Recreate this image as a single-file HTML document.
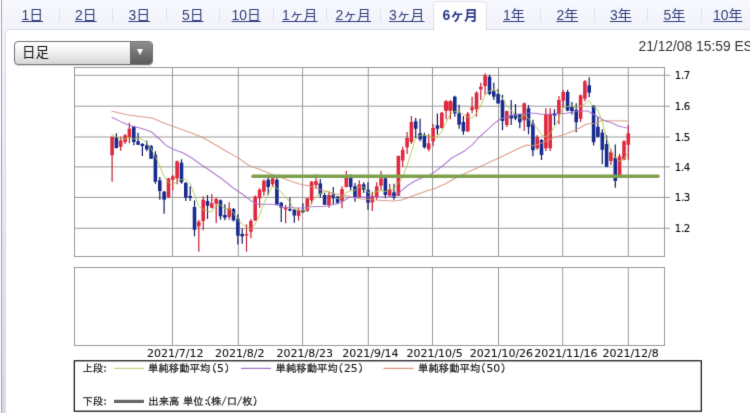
<!DOCTYPE html>
<html lang="ja"><head><meta charset="utf-8"><title>チャート</title>
<style>
html,body{margin:0;padding:0}
body{width:750px;height:413px;overflow:hidden;position:relative;background:#f4f5fc;font-family:"Liberation Sans","Noto Sans CJK JP",sans-serif;}
.edge{position:absolute;left:0.8px;top:0;width:1.6px;height:413px;background:#a4a4a4}
.band{position:absolute;left:2.4px;top:29px;width:4px;height:384px;background:linear-gradient(#f1f2fa,#e6e8f1 45%,#d6dae6)}
.edge0{position:absolute;left:0;top:0;width:1px;height:413px;background:#fff}
.panel{position:absolute;left:5px;top:29px;width:760px;height:400px;background:#fff;border:1px solid #d9dce6;border-radius:4px 0 0 0}
ul.tabs{position:absolute;left:2.4px;top:0;margin:0;padding:0;list-style:none;width:760px;height:29px;background:linear-gradient(#f8f9fe,#f1f2fa)}
ul.tabs li{position:absolute;top:1px;height:28px;line-height:28.8px;font-size:13.9px;color:#2c3b8c;text-align:center;white-space:nowrap}
ul.tabs li a{text-decoration:underline;color:#323e7a}
ul.tabs li.on{background:#fff;border:1px solid #dfe1ea;border-bottom:none;border-radius:5px 5px 0 0;height:29px;line-height:26.4px;font-weight:bold}
ul.tabs li.on a{text-decoration:none;color:#2b3b8a}
.sep{position:absolute;top:8px;width:1px;height:14px;background:#e0e2ea}
.sel{position:absolute;left:14px;top:41px;width:136.5px;height:22px;border:1px solid #757575;border-radius:4px;background:linear-gradient(#ffffff,#f4f4f4 40%,#d6d6d6);overflow:hidden;box-shadow:0 1px 1px rgba(0,0,0,.15)}
.sel span{position:absolute;left:7px;top:0;line-height:22px;font-size:13.5px;color:#111}
.sel i{position:absolute;right:0;top:0;width:20.5px;height:22px;background:linear-gradient(#8e8e8e,#5a5a5a);border-left:1px solid #6a6a6a}
.sel i:after{content:"";position:absolute;left:5.8px;top:7.4px;border-left:3.7px solid transparent;border-right:3.7px solid transparent;border-top:6px solid #fff}
.ts{position:absolute;left:638.5px;top:39px;font-size:13.8px;color:#333;white-space:nowrap;line-height:16px}
svg.chart{position:absolute;left:0;top:0}

.wrap{position:absolute;left:0;top:0;width:750px;height:413px;overflow:hidden;filter:url(#soft)}
</style></head><body>
<svg width="0" height="0" style="position:absolute"><defs><filter id="soft" x="0" y="0" width="750" height="413" filterUnits="userSpaceOnUse" color-interpolation-filters="sRGB"><feConvolveMatrix order="3" kernelMatrix="0.0100 0.0800 0.0100 0.0800 0.6400 0.0800 0.0100 0.0800 0.0100" divisor="1" preserveAlpha="false" edgeMode="duplicate"/></filter></defs></svg>
<div class="wrap">
<div class="edge0"></div><div class="band"></div><div class="edge"></div>
<div class="panel"></div>
<ul class="tabs"><li class="tab" style="left:3.1px;width:53.5px"><a>1日</a></li><li class="tab" style="left:56.6px;width:53.5px"><a>2日</a></li><li class="tab" style="left:110.1px;width:53.5px"><a>3日</a></li><li class="tab" style="left:163.6px;width:53.5px"><a>5日</a></li><li class="tab" style="left:217.1px;width:53.5px"><a>10日</a></li><li class="tab" style="left:270.6px;width:53.5px"><a>1ヶ月</a></li><li class="tab" style="left:324.1px;width:53.5px"><a>2ヶ月</a></li><li class="tab" style="left:377.6px;width:53.5px"><a>3ヶ月</a></li><li class="tab on" style="left:430.6px;width:52.5px"><a>6ヶ月</a></li><li class="tab" style="left:484.6px;width:53.5px"><a>1年</a></li><li class="tab" style="left:538.1px;width:53.5px"><a>2年</a></li><li class="tab" style="left:591.6px;width:53.5px"><a>3年</a></li><li class="tab" style="left:645.1px;width:53.5px"><a>5年</a></li><li class="tab" style="left:698.6px;width:53.5px"><a>10年</a></li></ul>
<div class="sep" style="left:58.5px"></div><div class="sep" style="left:112.0px"></div><div class="sep" style="left:165.5px"></div><div class="sep" style="left:219.0px"></div><div class="sep" style="left:272.5px"></div><div class="sep" style="left:326.0px"></div><div class="sep" style="left:379.5px"></div><div class="sep" style="left:540.0px"></div><div class="sep" style="left:593.5px"></div><div class="sep" style="left:647.0px"></div><div class="sep" style="left:700.5px"></div>
<div class="sel"><span>日足</span><i></i></div>
<div class="ts">21/12/08 15:59 EST</div>
<svg class="chart" width="750" height="413" viewBox="0 0 750 413">
<g class="gfx">
<g class="grid" fill="none" stroke="#9a9a9a" stroke-width="1">
<rect x="74.5" y="67.5" width="590.0" height="189.0" fill="#fff"/>
<rect x="74.5" y="267.5" width="590.0" height="78.0" fill="#fff"/>
<line x1="172.5" y1="67.5" x2="172.5" y2="256.5"/>
<line x1="172.5" y1="267.5" x2="172.5" y2="345.5"/>
<line x1="238.3" y1="67.5" x2="238.3" y2="256.5"/>
<line x1="238.3" y1="267.5" x2="238.3" y2="345.5"/>
<line x1="302.6" y1="67.5" x2="302.6" y2="256.5"/>
<line x1="302.6" y1="267.5" x2="302.6" y2="345.5"/>
<line x1="368.3" y1="67.5" x2="368.3" y2="256.5"/>
<line x1="368.3" y1="267.5" x2="368.3" y2="345.5"/>
<line x1="432.5" y1="67.5" x2="432.5" y2="256.5"/>
<line x1="432.5" y1="267.5" x2="432.5" y2="345.5"/>
<line x1="498.5" y1="67.5" x2="498.5" y2="256.5"/>
<line x1="498.5" y1="267.5" x2="498.5" y2="345.5"/>
<line x1="562.7" y1="67.5" x2="562.7" y2="256.5"/>
<line x1="562.7" y1="267.5" x2="562.7" y2="345.5"/>
<line x1="628.3" y1="67.5" x2="628.3" y2="256.5"/>
<line x1="628.3" y1="267.5" x2="628.3" y2="345.5"/>
<line x1="74.5" y1="75.3" x2="670.0" y2="75.3"/>
<line x1="74.5" y1="106.2" x2="670.0" y2="106.2"/>
<line x1="74.5" y1="137.0" x2="670.0" y2="137.0"/>
<line x1="74.5" y1="166.9" x2="670.0" y2="166.9"/>
<line x1="74.5" y1="197.4" x2="670.0" y2="197.4"/>
<line x1="74.5" y1="228.3" x2="670.0" y2="228.3"/>
</g>
<g class="candles">
<line x1="112.1" y1="136.7" x2="112.1" y2="181.7" stroke="#bf2036" stroke-width="1.2"/>
<rect x="110.3" y="136.7" width="3.6" height="18.6" fill="#e0283e"/>
<line x1="116.4" y1="133.3" x2="116.4" y2="148.5" stroke="#121d62" stroke-width="1.2"/>
<rect x="114.6" y="137.3" width="3.6" height="10.7" fill="#182c90"/>
<line x1="120.7" y1="136.7" x2="120.7" y2="150.7" stroke="#bf2036" stroke-width="1.2"/>
<rect x="118.9" y="140.7" width="3.6" height="6.0" fill="#e0283e"/>
<line x1="125.1" y1="134.0" x2="125.1" y2="144.0" stroke="#bf2036" stroke-width="1.2"/>
<rect x="123.3" y="135.3" width="3.6" height="6.7" fill="#e0283e"/>
<line x1="129.4" y1="122.7" x2="129.4" y2="143.3" stroke="#bf2036" stroke-width="1.2"/>
<rect x="127.6" y="128.7" width="3.6" height="8.6" fill="#e0283e"/>
<line x1="133.8" y1="126.0" x2="133.8" y2="145.3" stroke="#121d62" stroke-width="1.2"/>
<rect x="132.0" y="126.7" width="3.6" height="15.3" fill="#182c90"/>
<line x1="138.1" y1="132.7" x2="138.1" y2="145.0" stroke="#121d62" stroke-width="1.2"/>
<rect x="136.3" y="141.3" width="3.6" height="3.4" fill="#182c90"/>
<line x1="142.4" y1="143.0" x2="142.4" y2="156.0" stroke="#121d62" stroke-width="1.2"/>
<rect x="140.6" y="144.0" width="3.6" height="2.0" fill="#182c90"/>
<line x1="146.8" y1="140.7" x2="146.8" y2="151.3" stroke="#121d62" stroke-width="1.2"/>
<rect x="145.0" y="145.3" width="3.6" height="4.0" fill="#182c90"/>
<line x1="151.1" y1="145.0" x2="151.1" y2="159.0" stroke="#121d62" stroke-width="1.2"/>
<rect x="149.3" y="146.0" width="3.6" height="12.7" fill="#182c90"/>
<line x1="155.4" y1="151.3" x2="155.4" y2="183.7" stroke="#121d62" stroke-width="1.2"/>
<rect x="153.6" y="154.7" width="3.6" height="27.0" fill="#182c90"/>
<line x1="159.8" y1="177.0" x2="159.8" y2="199.7" stroke="#121d62" stroke-width="1.2"/>
<rect x="158.0" y="180.3" width="3.6" height="10.7" fill="#182c90"/>
<line x1="164.1" y1="191.0" x2="164.1" y2="213.7" stroke="#121d62" stroke-width="1.2"/>
<rect x="162.3" y="191.7" width="3.6" height="8.0" fill="#182c90"/>
<line x1="168.5" y1="178.0" x2="168.5" y2="198.0" stroke="#bf2036" stroke-width="1.2"/>
<rect x="166.7" y="178.3" width="3.6" height="19.1" fill="#e0283e"/>
<line x1="172.8" y1="175.0" x2="172.8" y2="190.3" stroke="#bf2036" stroke-width="1.2"/>
<rect x="171.0" y="176.3" width="3.6" height="3.4" fill="#e0283e"/>
<line x1="177.1" y1="160.5" x2="177.1" y2="184.3" stroke="#bf2036" stroke-width="1.2"/>
<rect x="175.3" y="161.3" width="3.6" height="17.0" fill="#e0283e"/>
<line x1="181.5" y1="159.3" x2="181.5" y2="183.7" stroke="#121d62" stroke-width="1.2"/>
<rect x="179.7" y="162.7" width="3.6" height="19.6" fill="#182c90"/>
<line x1="185.8" y1="182.0" x2="185.8" y2="201.0" stroke="#121d62" stroke-width="1.2"/>
<rect x="184.0" y="183.0" width="3.6" height="14.7" fill="#182c90"/>
<line x1="190.2" y1="186.3" x2="190.2" y2="201.0" stroke="#121d62" stroke-width="1.2"/>
<rect x="188.4" y="196.0" width="3.6" height="2.0" fill="#182c90"/>
<line x1="194.5" y1="200.3" x2="194.5" y2="236.3" stroke="#121d62" stroke-width="1.2"/>
<rect x="192.7" y="207.0" width="3.6" height="22.7" fill="#182c90"/>
<line x1="198.8" y1="220.0" x2="198.8" y2="251.7" stroke="#bf2036" stroke-width="1.2"/>
<rect x="197.0" y="221.7" width="3.6" height="4.6" fill="#e0283e"/>
<line x1="203.2" y1="196.3" x2="203.2" y2="230.3" stroke="#bf2036" stroke-width="1.2"/>
<rect x="201.4" y="199.7" width="3.6" height="21.3" fill="#e0283e"/>
<line x1="207.5" y1="195.0" x2="207.5" y2="219.0" stroke="#121d62" stroke-width="1.2"/>
<rect x="205.7" y="201.0" width="3.6" height="4.7" fill="#182c90"/>
<line x1="211.8" y1="194.0" x2="211.8" y2="208.5" stroke="#bf2036" stroke-width="1.2"/>
<rect x="210.0" y="203.3" width="3.6" height="4.4" fill="#e0283e"/>
<line x1="216.2" y1="198.0" x2="216.2" y2="223.0" stroke="#bf2036" stroke-width="1.2"/>
<rect x="214.4" y="199.0" width="3.6" height="4.7" fill="#e0283e"/>
<line x1="220.5" y1="199.5" x2="220.5" y2="219.7" stroke="#121d62" stroke-width="1.2"/>
<rect x="218.7" y="200.3" width="3.6" height="16.0" fill="#182c90"/>
<line x1="224.9" y1="204.3" x2="224.9" y2="220.3" stroke="#121d62" stroke-width="1.2"/>
<rect x="223.1" y="215.0" width="3.6" height="2.7" fill="#182c90"/>
<line x1="229.2" y1="202.3" x2="229.2" y2="219.7" stroke="#bf2036" stroke-width="1.2"/>
<rect x="227.4" y="208.3" width="3.6" height="8.7" fill="#e0283e"/>
<line x1="233.5" y1="208.0" x2="233.5" y2="221.5" stroke="#121d62" stroke-width="1.2"/>
<rect x="231.7" y="209.0" width="3.6" height="11.3" fill="#182c90"/>
<line x1="237.9" y1="214.3" x2="237.9" y2="244.5" stroke="#121d62" stroke-width="1.2"/>
<rect x="236.1" y="219.0" width="3.6" height="16.7" fill="#182c90"/>
<line x1="242.2" y1="228.3" x2="242.2" y2="243.7" stroke="#121d62" stroke-width="1.2"/>
<rect x="240.4" y="234.0" width="3.6" height="2.3" fill="#182c90"/>
<line x1="246.5" y1="224.3" x2="246.5" y2="251.7" stroke="#bf2036" stroke-width="1.2"/>
<rect x="244.7" y="234.0" width="3.6" height="1.4" fill="#e0283e"/>
<line x1="250.9" y1="219.0" x2="250.9" y2="238.3" stroke="#bf2036" stroke-width="1.2"/>
<rect x="249.1" y="221.0" width="3.6" height="10.7" fill="#e0283e"/>
<line x1="255.2" y1="195.5" x2="255.2" y2="221.0" stroke="#bf2036" stroke-width="1.2"/>
<rect x="253.4" y="196.5" width="3.6" height="24.0" fill="#e0283e"/>
<line x1="259.6" y1="188.3" x2="259.6" y2="207.7" stroke="#bf2036" stroke-width="1.2"/>
<rect x="257.8" y="189.7" width="3.6" height="8.6" fill="#e0283e"/>
<line x1="263.9" y1="179.5" x2="263.9" y2="195.7" stroke="#bf2036" stroke-width="1.2"/>
<rect x="262.1" y="180.7" width="3.6" height="11.0" fill="#e0283e"/>
<line x1="268.2" y1="175.0" x2="268.2" y2="195.0" stroke="#121d62" stroke-width="1.2"/>
<rect x="266.4" y="179.7" width="3.6" height="7.3" fill="#182c90"/>
<line x1="272.6" y1="177.0" x2="272.6" y2="187.0" stroke="#bf2036" stroke-width="1.2"/>
<rect x="270.8" y="178.3" width="3.6" height="6.0" fill="#e0283e"/>
<line x1="276.9" y1="178.3" x2="276.9" y2="205.0" stroke="#121d62" stroke-width="1.2"/>
<rect x="275.1" y="179.7" width="3.6" height="24.6" fill="#182c90"/>
<line x1="281.2" y1="202.0" x2="281.2" y2="222.0" stroke="#121d62" stroke-width="1.2"/>
<rect x="279.4" y="202.7" width="3.6" height="4.8" fill="#182c90"/>
<line x1="285.6" y1="205.0" x2="285.6" y2="223.3" stroke="#bf2036" stroke-width="1.2"/>
<rect x="283.8" y="207.0" width="3.6" height="2.5" fill="#e0283e"/>
<line x1="289.9" y1="197.5" x2="289.9" y2="211.5" stroke="#121d62" stroke-width="1.2"/>
<rect x="288.1" y="209.0" width="3.6" height="1.5" fill="#182c90"/>
<line x1="294.3" y1="209.0" x2="294.3" y2="222.7" stroke="#121d62" stroke-width="1.2"/>
<rect x="292.5" y="209.7" width="3.6" height="5.8" fill="#182c90"/>
<line x1="298.6" y1="208.3" x2="298.6" y2="220.7" stroke="#bf2036" stroke-width="1.2"/>
<rect x="296.8" y="210.2" width="3.6" height="5.6" fill="#e0283e"/>
<line x1="302.9" y1="203.2" x2="302.9" y2="212.8" stroke="#121d62" stroke-width="1.2"/>
<rect x="301.1" y="210.3" width="3.6" height="2.0" fill="#182c90"/>
<line x1="307.3" y1="198.0" x2="307.3" y2="211.5" stroke="#bf2036" stroke-width="1.2"/>
<rect x="305.5" y="198.3" width="3.6" height="12.9" fill="#e0283e"/>
<line x1="311.6" y1="181.0" x2="311.6" y2="204.3" stroke="#bf2036" stroke-width="1.2"/>
<rect x="309.8" y="181.7" width="3.6" height="18.6" fill="#e0283e"/>
<line x1="316.0" y1="174.3" x2="316.0" y2="188.3" stroke="#bf2036" stroke-width="1.2"/>
<rect x="314.2" y="181.0" width="3.6" height="4.0" fill="#e0283e"/>
<line x1="320.3" y1="179.0" x2="320.3" y2="197.7" stroke="#121d62" stroke-width="1.2"/>
<rect x="318.5" y="183.4" width="3.6" height="10.9" fill="#182c90"/>
<line x1="324.6" y1="193.0" x2="324.6" y2="205.0" stroke="#121d62" stroke-width="1.2"/>
<rect x="322.8" y="195.0" width="3.6" height="9.7" fill="#182c90"/>
<line x1="329.0" y1="191.7" x2="329.0" y2="207.7" stroke="#bf2036" stroke-width="1.2"/>
<rect x="327.2" y="195.0" width="3.6" height="10.0" fill="#e0283e"/>
<line x1="333.3" y1="187.0" x2="333.3" y2="204.3" stroke="#121d62" stroke-width="1.2"/>
<rect x="331.5" y="194.3" width="3.6" height="4.0" fill="#182c90"/>
<line x1="337.6" y1="196.0" x2="337.6" y2="204.3" stroke="#121d62" stroke-width="1.2"/>
<rect x="335.8" y="196.5" width="3.6" height="6.2" fill="#182c90"/>
<line x1="342.0" y1="186.3" x2="342.0" y2="208.3" stroke="#bf2036" stroke-width="1.2"/>
<rect x="340.2" y="189.0" width="3.6" height="12.0" fill="#e0283e"/>
<line x1="346.3" y1="171.0" x2="346.3" y2="187.5" stroke="#bf2036" stroke-width="1.2"/>
<rect x="344.5" y="177.7" width="3.6" height="9.3" fill="#e0283e"/>
<line x1="350.7" y1="174.3" x2="350.7" y2="190.3" stroke="#121d62" stroke-width="1.2"/>
<rect x="348.9" y="177.7" width="3.6" height="9.3" fill="#182c90"/>
<line x1="355.0" y1="183.0" x2="355.0" y2="201.7" stroke="#121d62" stroke-width="1.2"/>
<rect x="353.2" y="186.3" width="3.6" height="10.7" fill="#182c90"/>
<line x1="359.3" y1="180.3" x2="359.3" y2="198.0" stroke="#bf2036" stroke-width="1.2"/>
<rect x="357.5" y="184.3" width="3.6" height="13.4" fill="#e0283e"/>
<line x1="363.7" y1="182.3" x2="363.7" y2="193.0" stroke="#121d62" stroke-width="1.2"/>
<rect x="361.9" y="184.3" width="3.6" height="5.4" fill="#182c90"/>
<line x1="368.0" y1="182.3" x2="368.0" y2="209.7" stroke="#121d62" stroke-width="1.2"/>
<rect x="366.2" y="189.7" width="3.6" height="13.0" fill="#182c90"/>
<line x1="372.3" y1="191.7" x2="372.3" y2="211.0" stroke="#bf2036" stroke-width="1.2"/>
<rect x="370.5" y="195.7" width="3.6" height="6.6" fill="#e0283e"/>
<line x1="376.7" y1="182.3" x2="376.7" y2="199.7" stroke="#bf2036" stroke-width="1.2"/>
<rect x="374.9" y="186.3" width="3.6" height="10.7" fill="#e0283e"/>
<line x1="381.0" y1="171.0" x2="381.0" y2="190.3" stroke="#bf2036" stroke-width="1.2"/>
<rect x="379.2" y="178.3" width="3.6" height="7.4" fill="#e0283e"/>
<line x1="385.4" y1="177.5" x2="385.4" y2="198.3" stroke="#121d62" stroke-width="1.2"/>
<rect x="383.6" y="178.3" width="3.6" height="16.7" fill="#182c90"/>
<line x1="389.7" y1="183.7" x2="389.7" y2="196.0" stroke="#bf2036" stroke-width="1.2"/>
<rect x="387.9" y="189.7" width="3.6" height="6.0" fill="#e0283e"/>
<line x1="394.0" y1="183.7" x2="394.0" y2="199.7" stroke="#121d62" stroke-width="1.2"/>
<rect x="392.2" y="192.3" width="3.6" height="5.4" fill="#182c90"/>
<line x1="398.4" y1="155.5" x2="398.4" y2="196.0" stroke="#bf2036" stroke-width="1.2"/>
<rect x="396.6" y="156.0" width="3.6" height="39.7" fill="#e0283e"/>
<line x1="402.7" y1="146.7" x2="402.7" y2="166.8" stroke="#bf2036" stroke-width="1.2"/>
<rect x="400.9" y="150.0" width="3.6" height="10.5" fill="#e0283e"/>
<line x1="407.1" y1="132.0" x2="407.1" y2="154.0" stroke="#bf2036" stroke-width="1.2"/>
<rect x="405.3" y="138.0" width="3.6" height="9.3" fill="#e0283e"/>
<line x1="411.4" y1="116.0" x2="411.4" y2="144.0" stroke="#bf2036" stroke-width="1.2"/>
<rect x="409.6" y="122.0" width="3.6" height="20.0" fill="#e0283e"/>
<line x1="415.7" y1="118.0" x2="415.7" y2="138.0" stroke="#121d62" stroke-width="1.2"/>
<rect x="413.9" y="121.3" width="3.6" height="7.4" fill="#182c90"/>
<line x1="420.1" y1="118.7" x2="420.1" y2="141.3" stroke="#121d62" stroke-width="1.2"/>
<rect x="418.3" y="133.3" width="3.6" height="6.0" fill="#182c90"/>
<line x1="424.4" y1="132.7" x2="424.4" y2="148.5" stroke="#121d62" stroke-width="1.2"/>
<rect x="422.6" y="135.3" width="3.6" height="12.0" fill="#182c90"/>
<line x1="428.7" y1="134.0" x2="428.7" y2="151.3" stroke="#bf2036" stroke-width="1.2"/>
<rect x="426.9" y="143.3" width="3.6" height="6.0" fill="#e0283e"/>
<line x1="433.1" y1="124.0" x2="433.1" y2="146.0" stroke="#bf2036" stroke-width="1.2"/>
<rect x="431.3" y="128.0" width="3.6" height="13.3" fill="#e0283e"/>
<line x1="437.4" y1="113.5" x2="437.4" y2="134.7" stroke="#121d62" stroke-width="1.2"/>
<rect x="435.6" y="125.3" width="3.6" height="3.4" fill="#182c90"/>
<line x1="441.8" y1="112.0" x2="441.8" y2="128.5" stroke="#bf2036" stroke-width="1.2"/>
<rect x="440.0" y="112.7" width="3.6" height="15.3" fill="#e0283e"/>
<line x1="446.1" y1="100.0" x2="446.1" y2="119.3" stroke="#bf2036" stroke-width="1.2"/>
<rect x="443.9" y="101.3" width="4.3" height="9.4" fill="#e0283e"/>
<line x1="450.4" y1="100.0" x2="450.4" y2="119.3" stroke="#bf2036" stroke-width="1.2"/>
<rect x="448.3" y="101.3" width="4.3" height="9.4" fill="#e0283e"/>
<line x1="454.8" y1="95.7" x2="454.8" y2="116.7" stroke="#121d62" stroke-width="1.2"/>
<rect x="453.0" y="96.7" width="3.6" height="16.6" fill="#182c90"/>
<line x1="459.1" y1="104.7" x2="459.1" y2="128.7" stroke="#121d62" stroke-width="1.2"/>
<rect x="457.3" y="113.3" width="3.6" height="11.4" fill="#182c90"/>
<line x1="463.4" y1="116.0" x2="463.4" y2="134.7" stroke="#121d62" stroke-width="1.2"/>
<rect x="461.6" y="122.0" width="3.6" height="9.3" fill="#182c90"/>
<line x1="467.8" y1="112.0" x2="467.8" y2="132.0" stroke="#bf2036" stroke-width="1.2"/>
<rect x="466.0" y="113.7" width="3.6" height="17.6" fill="#e0283e"/>
<line x1="472.1" y1="96.7" x2="472.1" y2="113.3" stroke="#bf2036" stroke-width="1.2"/>
<rect x="470.3" y="107.3" width="3.6" height="2.7" fill="#e0283e"/>
<line x1="476.5" y1="91.3" x2="476.5" y2="116.7" stroke="#bf2036" stroke-width="1.2"/>
<rect x="474.7" y="92.7" width="3.6" height="16.6" fill="#e0283e"/>
<line x1="480.8" y1="82.7" x2="480.8" y2="100.0" stroke="#bf2036" stroke-width="1.2"/>
<rect x="479.0" y="86.7" width="3.6" height="2.6" fill="#e0283e"/>
<line x1="485.1" y1="73.3" x2="485.1" y2="94.7" stroke="#bf2036" stroke-width="1.2"/>
<rect x="483.3" y="75.3" width="3.6" height="10.7" fill="#e0283e"/>
<line x1="489.5" y1="74.7" x2="489.5" y2="95.3" stroke="#121d62" stroke-width="1.2"/>
<rect x="487.7" y="76.7" width="3.6" height="17.3" fill="#182c90"/>
<line x1="493.8" y1="82.7" x2="493.8" y2="100.0" stroke="#121d62" stroke-width="1.2"/>
<rect x="492.0" y="91.3" width="3.6" height="5.4" fill="#182c90"/>
<line x1="498.1" y1="89.3" x2="498.1" y2="104.0" stroke="#121d62" stroke-width="1.2"/>
<rect x="496.3" y="94.0" width="3.6" height="9.3" fill="#182c90"/>
<line x1="502.5" y1="94.7" x2="502.5" y2="130.3" stroke="#121d62" stroke-width="1.2"/>
<rect x="500.7" y="100.0" width="3.6" height="21.0" fill="#182c90"/>
<line x1="506.8" y1="110.5" x2="506.8" y2="127.0" stroke="#bf2036" stroke-width="1.2"/>
<rect x="505.0" y="111.2" width="3.6" height="13.8" fill="#e0283e"/>
<line x1="511.2" y1="100.0" x2="511.2" y2="125.0" stroke="#121d62" stroke-width="1.2"/>
<rect x="509.4" y="115.0" width="3.6" height="3.5" fill="#182c90"/>
<line x1="515.5" y1="104.0" x2="515.5" y2="120.3" stroke="#121d62" stroke-width="1.2"/>
<rect x="513.7" y="113.5" width="3.6" height="5.0" fill="#182c90"/>
<line x1="519.8" y1="113.5" x2="519.8" y2="128.3" stroke="#121d62" stroke-width="1.2"/>
<rect x="518.0" y="114.2" width="3.6" height="8.1" fill="#182c90"/>
<line x1="524.2" y1="102.5" x2="524.2" y2="131.0" stroke="#bf2036" stroke-width="1.2"/>
<rect x="522.4" y="103.3" width="3.6" height="17.0" fill="#e0283e"/>
<line x1="528.5" y1="105.0" x2="528.5" y2="134.3" stroke="#121d62" stroke-width="1.2"/>
<rect x="526.7" y="108.3" width="3.6" height="18.7" fill="#182c90"/>
<line x1="532.9" y1="119.7" x2="532.9" y2="156.3" stroke="#121d62" stroke-width="1.2"/>
<rect x="531.1" y="123.7" width="3.6" height="26.6" fill="#182c90"/>
<line x1="537.2" y1="135.0" x2="537.2" y2="149.7" stroke="#bf2036" stroke-width="1.2"/>
<rect x="535.4" y="137.0" width="3.6" height="11.3" fill="#e0283e"/>
<line x1="541.5" y1="139.0" x2="541.5" y2="160.0" stroke="#121d62" stroke-width="1.2"/>
<rect x="539.7" y="140.0" width="3.6" height="15.0" fill="#182c90"/>
<line x1="545.9" y1="108.2" x2="545.9" y2="151.0" stroke="#bf2036" stroke-width="1.2"/>
<rect x="544.1" y="114.2" width="3.6" height="34.1" fill="#e0283e"/>
<line x1="550.2" y1="108.2" x2="550.2" y2="151.0" stroke="#bf2036" stroke-width="1.2"/>
<rect x="548.4" y="113.8" width="3.6" height="34.5" fill="#e0283e"/>
<line x1="554.5" y1="109.2" x2="554.5" y2="125.0" stroke="#121d62" stroke-width="1.2"/>
<rect x="552.7" y="113.2" width="3.6" height="2.3" fill="#182c90"/>
<line x1="558.9" y1="96.0" x2="558.9" y2="124.3" stroke="#bf2036" stroke-width="1.2"/>
<rect x="557.1" y="100.0" width="3.6" height="14.2" fill="#e0283e"/>
<line x1="563.2" y1="90.0" x2="563.2" y2="108.0" stroke="#bf2036" stroke-width="1.2"/>
<rect x="561.4" y="92.0" width="3.6" height="8.7" fill="#e0283e"/>
<line x1="567.6" y1="90.0" x2="567.6" y2="111.3" stroke="#121d62" stroke-width="1.2"/>
<rect x="565.8" y="92.0" width="3.6" height="18.5" fill="#182c90"/>
<line x1="571.9" y1="102.0" x2="571.9" y2="114.5" stroke="#121d62" stroke-width="1.2"/>
<rect x="570.1" y="106.9" width="3.6" height="4.1" fill="#182c90"/>
<line x1="576.2" y1="103.3" x2="576.2" y2="132.2" stroke="#121d62" stroke-width="1.2"/>
<rect x="574.4" y="110.0" width="3.6" height="12.2" fill="#182c90"/>
<line x1="580.6" y1="94.5" x2="580.6" y2="122.0" stroke="#bf2036" stroke-width="1.2"/>
<rect x="578.8" y="95.3" width="3.6" height="23.4" fill="#e0283e"/>
<line x1="584.9" y1="80.0" x2="584.9" y2="101.3" stroke="#bf2036" stroke-width="1.2"/>
<rect x="583.1" y="81.3" width="3.6" height="17.4" fill="#e0283e"/>
<line x1="589.2" y1="77.3" x2="589.2" y2="97.3" stroke="#121d62" stroke-width="1.2"/>
<rect x="587.4" y="85.3" width="3.6" height="7.4" fill="#182c90"/>
<line x1="593.6" y1="105.0" x2="593.6" y2="145.4" stroke="#121d62" stroke-width="1.2"/>
<rect x="591.8" y="106.0" width="3.6" height="36.2" fill="#182c90"/>
<line x1="597.9" y1="116.7" x2="597.9" y2="137.5" stroke="#121d62" stroke-width="1.2"/>
<rect x="596.1" y="126.7" width="3.6" height="10.0" fill="#182c90"/>
<line x1="602.3" y1="129.3" x2="602.3" y2="164.0" stroke="#121d62" stroke-width="1.2"/>
<rect x="600.5" y="132.7" width="3.6" height="17.1" fill="#182c90"/>
<line x1="606.6" y1="135.3" x2="606.6" y2="167.2" stroke="#121d62" stroke-width="1.2"/>
<rect x="604.8" y="144.0" width="3.6" height="22.7" fill="#182c90"/>
<line x1="610.9" y1="149.0" x2="610.9" y2="165.0" stroke="#bf2036" stroke-width="1.2"/>
<rect x="609.1" y="152.3" width="3.6" height="8.7" fill="#e0283e"/>
<line x1="615.3" y1="144.6" x2="615.3" y2="187.7" stroke="#121d62" stroke-width="1.2"/>
<rect x="613.5" y="157.7" width="3.6" height="23.3" fill="#182c90"/>
<line x1="619.6" y1="153.7" x2="619.6" y2="175.5" stroke="#bf2036" stroke-width="1.2"/>
<rect x="617.8" y="156.3" width="3.6" height="18.7" fill="#e0283e"/>
<line x1="624.0" y1="140.3" x2="624.0" y2="160.2" stroke="#bf2036" stroke-width="1.2"/>
<rect x="622.2" y="141.2" width="3.6" height="18.5" fill="#e0283e"/>
<line x1="628.3" y1="124.7" x2="628.3" y2="159.7" stroke="#bf2036" stroke-width="1.2"/>
<rect x="626.5" y="133.3" width="3.6" height="11.5" fill="#e0283e"/>
</g>
<g fill="none" stroke-linejoin="round" stroke-linecap="round">
<path d="M112.0,111.2 L126.7,114.7 L140.0,116.5 L152.0,118.1 L161.3,121.9 L172.0,126.1 L185.3,130.7 L201.3,136.8 L212.0,142.7 L225.3,150.7 L238.7,158.1 L249.0,165.5 L258.3,169.0 L271.7,174.3 L285.0,179.0 L298.3,183.7 L309.0,186.0 L318.3,189.0 L325.0,191.0 L335.0,193.7 L348.3,196.3 L361.7,199.0 L375.0,200.0 L388.3,200.7 L393.7,201.0 L401.7,200.0 L408.3,197.7 L415.0,195.0 L421.7,192.7 L428.3,190.3 L432.4,189.4 L445.0,184.0 L453.3,179.3 L464.0,174.0 L472.0,170.3 L480.0,166.7 L490.0,162.0 L498.7,158.0 L506.7,154.3 L520.0,147.7 L526.7,145.0 L533.3,145.7 L540.0,143.7 L553.3,137.7 L566.7,133.7 L578.3,128.7 L585.0,124.7 L589.0,123.7 L595.7,123.3 L601.0,120.7 L611.7,120.7 L628.3,121.0" stroke="#d8937c" stroke-width="1.05" stroke-opacity="0.9"/>
<path d="M112.0,117.3 L121.3,121.9 L129.3,125.3 L140.0,128.0 L150.7,131.5 L153.3,133.5 L160.0,139.5 L166.7,145.8 L172.5,149.0 L182.7,152.8 L190.7,157.3 L201.3,164.8 L212.0,172.0 L222.7,179.5 L233.3,188.0 L245.0,196.0 L251.7,201.3 L258.3,204.2 L271.7,204.3 L277.0,205.0 L283.7,207.3 L298.3,208.0 L305.0,207.8 L311.7,206.7 L325.0,206.3 L335.0,204.3 L341.7,202.3 L348.3,197.7 L361.7,197.0 L375.0,197.0 L388.3,196.7 L395.0,196.3 L400.3,191.7 L408.3,185.0 L415.0,181.0 L421.7,178.0 L428.3,175.7 L435.0,171.7 L443.7,165.0 L451.7,158.0 L465.0,150.7 L471.7,145.3 L478.3,138.0 L486.7,130.3 L493.3,124.3 L500.0,119.0 L506.7,117.0 L513.3,115.0 L520.0,114.3 L526.7,113.3 L536.0,113.3 L540.0,114.3 L553.3,114.0 L566.7,113.3 L578.3,111.0 L587.7,111.0 L591.7,113.3 L598.3,117.3 L605.0,120.7 L611.7,122.7 L618.3,126.0 L623.7,127.3 L628.3,128.3" stroke="#a66ecc" stroke-width="1.05" stroke-opacity="0.9"/>
<path d="M111.8,134.1 L116.1,137.0 L120.4,138.5 L124.8,138.8 L129.1,137.9 L133.5,138.9 L137.8,138.3 L142.1,139.3 L146.5,142.1 L150.8,148.1 L155.1,156.1 L159.5,165.3 L163.8,176.1 L168.2,181.9 L172.5,185.4 L176.8,181.3 L181.2,179.6 L185.5,179.2 L189.9,183.1 L194.2,193.8 L198.5,205.9 L202.9,209.4 L207.2,211.0 L211.5,212.0 L215.9,205.9 L220.2,204.8 L224.6,208.4 L228.9,208.9 L233.2,212.3 L237.6,219.7 L241.9,223.7 L246.2,226.9 L250.6,229.5 L254.9,224.7 L259.3,215.5 L263.6,204.4 L267.9,195.0 L272.3,186.4 L276.6,188.0 L280.9,191.6 L285.3,196.8 L289.6,201.5 L294.0,209.0 L298.3,210.1 L302.6,211.1 L307.0,209.4 L311.3,203.6 L315.7,196.7 L320.0,193.5 L324.3,192.0 L328.7,191.3 L333.0,194.7 L337.3,199.0 L341.7,197.9 L346.0,192.5 L350.4,190.9 L354.7,190.7 L359.0,187.0 L363.4,187.1 L367.7,192.1 L372.0,193.9 L376.4,191.7 L380.7,190.5 L385.1,191.6 L389.4,189.0 L393.7,189.4 L398.1,183.3 L402.4,177.7 L406.8,166.3 L411.1,152.7 L415.4,138.9 L419.8,135.6 L424.1,135.1 L428.4,136.1 L432.8,137.3 L437.1,137.3 L441.5,132.0 L445.8,122.8 L450.1,114.4 L454.5,111.5 L458.8,110.7 L463.1,114.4 L467.5,116.9 L471.8,118.1 L476.2,113.9 L480.5,106.3 L484.8,95.1 L489.2,91.2 L493.5,89.1 L497.8,91.2 L502.2,98.1 L506.5,105.2 L510.9,110.1 L515.2,114.5 L519.5,118.3 L523.9,114.8 L528.2,117.9 L532.6,124.3 L536.9,128.0 L541.2,134.5 L545.6,136.7 L549.9,134.1 L554.2,127.1 L558.6,119.7 L562.9,107.1 L567.3,106.4 L571.6,105.8 L575.9,107.1 L580.3,106.2 L584.6,104.1 L588.9,100.5 L593.3,106.7 L597.6,109.6 L602.0,120.5 L606.3,137.6 L610.6,149.5 L615.0,157.3 L619.3,161.2 L623.7,159.5 L628.0,152.8" stroke="#aec548" stroke-width="1.0" stroke-opacity="0.85"/>
</g>
<line x1="253" y1="176.2" x2="658" y2="176.2" stroke="#7fa04e" stroke-width="3.6" stroke-linecap="round"/>
</g>
<g class="txt">
<g font-family="'DejaVu Sans', sans-serif" font-size="11.0" fill="#111" stroke="#111" stroke-width="0.08">
<text x="175.3" y="357.4" text-anchor="middle">2021/7/12</text>
<text x="239.7" y="357.4" text-anchor="middle">2021/8/2</text>
<text x="304.8" y="357.4" text-anchor="middle">2021/8/23</text>
<text x="370.4" y="357.4" text-anchor="middle">2021/9/14</text>
<text x="434.6" y="357.4" text-anchor="middle">2021/10/5</text>
<text x="501.4" y="357.4" text-anchor="middle">2021/10/26</text>
<text x="565.9" y="357.4" text-anchor="middle">2021/11/16</text>
<text x="630.6" y="357.4" text-anchor="middle">2021/12/8</text>
<text x="674.8" y="79.1" font-size="10.2" letter-spacing="-0.4" stroke-width="0.15">1.7</text>
<text x="674.8" y="110.0" font-size="10.2" letter-spacing="-0.4" stroke-width="0.15">1.6</text>
<text x="674.8" y="140.8" font-size="10.2" letter-spacing="-0.4" stroke-width="0.15">1.5</text>
<text x="674.8" y="170.7" font-size="10.2" letter-spacing="-0.4" stroke-width="0.15">1.4</text>
<text x="674.8" y="201.2" font-size="10.2" letter-spacing="-0.4" stroke-width="0.15">1.3</text>
<text x="674.8" y="232.1" font-size="10.2" letter-spacing="-0.4" stroke-width="0.15">1.2</text>
</g>
<rect x="74.3" y="360.8" width="627" height="50.4" fill="#fff" stroke="#000" stroke-width="1.15"/>
<g font-family="IPAGothic, 'Noto Sans CJK JP', sans-serif" font-size="10.4" fill="#1c1c1c" stroke="#1c1c1c" stroke-width="0.25">
<text y="372.3"><tspan x="82.4">上段</tspan><tspan x="102.5">:</tspan></text>
<text y="405.3"><tspan x="82.4">下段</tspan><tspan x="102.5">:</tspan></text>
<line x1="114" y1="368.4" x2="144" y2="368.4" stroke="#c8d690" stroke-width="1.3"/>
<text y="372.3"><tspan x="148.0">単純移動平均</tspan><tspan x="211.6">(</tspan><tspan x="217.0" font-family="'DejaVu Sans', sans-serif" font-size="10.8" stroke-width="0.15">5</tspan><tspan x="224.6">)</tspan></text>
<line x1="241" y1="368.4" x2="271" y2="368.4" stroke="#a87cc8" stroke-width="1.3"/>
<text y="372.3"><tspan x="275.5">単純移動平均</tspan><tspan x="338.1">(</tspan><tspan x="344.0" font-family="'DejaVu Sans', sans-serif" font-size="10.8" stroke-width="0.15">25</tspan><tspan x="358.2">)</tspan></text>
<line x1="383.5" y1="368.4" x2="413.5" y2="368.4" stroke="#d8987f" stroke-width="1.3"/>
<text y="372.3"><tspan x="418.0">単純移動平均</tspan><tspan x="480.6">(</tspan><tspan x="486.5" font-family="'DejaVu Sans', sans-serif" font-size="10.8" stroke-width="0.15">50</tspan><tspan x="500.7">)</tspan></text>
<line x1="114" y1="401.4" x2="144" y2="401.4" stroke="#666" stroke-width="3.2"/>
<text y="405.3"><tspan x="148.3">出来高 </tspan><tspan x="182.9">単位:</tspan><tspan x="205.9">(株/口/枚)</tspan></text>
</g>
</g>
</svg>
</div>
</body></html>
